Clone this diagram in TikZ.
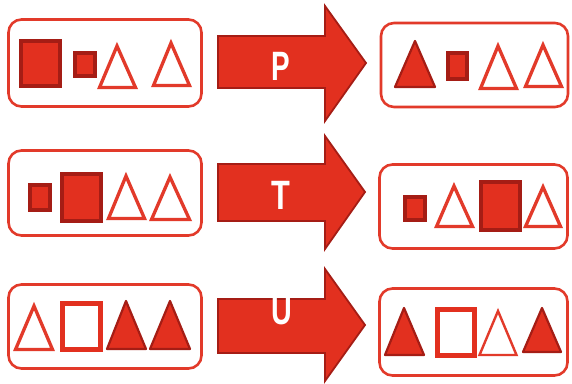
\documentclass[tikz,border=0pt]{standalone}
\usepackage{fontspec}
\setsansfont{Liberation Sans}
\usetikzlibrary{positioning}

\definecolor{redfill}{HTML}{E2301F}
\definecolor{reddark}{HTML}{A51D15}
\definecolor{redline}{HTML}{E23A2A}

\tikzset{
  panel/.style={draw=redline,line width=2.6pt,rounded corners=13pt,fill=white,inner sep=0pt},
  bigarrow/.style={fill=redfill,draw=reddark,line width=1.8pt,line join=miter},
  sqfull/.style={fill=redfill,draw=reddark,line width=4pt},
  sqhollow/.style={fill=white,draw=redfill,line width=5pt},
  trifull/.style={fill=redfill,draw=reddark,line width=2.2pt,line join=round},
  trihollow/.style={fill=white,draw=redline,line width=3.3pt,line join=miter},
  letter/.style={text=white,font=\sffamily\bfseries\fontsize{41}{41}\selectfont,inner sep=0pt}
}

\begin{document}
\begin{tikzpicture}[x=1pt,y=-1pt]
\useasboundingbox (0,0) rectangle (572,383);

% the six panels
\node[panel,minimum width=193pt,minimum height=87pt] (in1) at (105,63) {};
\node[panel,minimum width=187pt,minimum height=84pt] (out1) at (474.5,65) {};
\node[panel,minimum width=193pt,minimum height=85pt] (in2) at (105,193) {};
\node[panel,minimum width=188pt,minimum height=84pt] (out2) at (473.5,206.5) {};
\node[panel,minimum width=193pt,minimum height=84pt] (in3) at (105,326.5) {};
\node[panel,minimum width=188pt,minimum height=87pt] (out3) at (473.5,332) {};

% block arrows
\draw[bigarrow] (218,36) -- (325,36) -- (325,6) -- (366,63) -- (325,121) -- (325,88) -- (218,88) -- cycle;
\draw[bigarrow] (218,164) -- (325,164) -- (325,136) -- (365,192) -- (325,249) -- (325,221) -- (218,221) -- cycle;
\draw[bigarrow] (218,299) -- (325,299) -- (325,269) -- (365,325) -- (325,381) -- (325,353) -- (218,353) -- cycle;
\node[letter] (p) at (281,66) {\scalebox{0.68}[1]{P}};
\node[letter] (t) at (281,195) {\scalebox{0.75}[1]{T}};
\node[letter] (u) at (282,311) {\scalebox{0.7}[1]{U}};

% row 1, before
\draw[sqfull] (21,41) rectangle (60,86);
\draw[sqfull] (75,53) rectangle (95,76);
\draw[trihollow] (99.5,87.5) -- (117,46) -- (135.5,87.5) -- cycle;
\draw[trihollow] (153.5,85.5) -- (171,43) -- (189.5,85.5) -- cycle;
% row 1, after
\draw[trifull] (395,87) -- (415,41) -- (435,87) -- cycle;
\draw[sqfull] (448,53) rectangle (467,79);
\draw[trihollow] (480.5,88.5) -- (498,46) -- (516.5,88.5) -- cycle;
\draw[trihollow] (525.5,86.5) -- (543,45) -- (561.5,86.5) -- cycle;

% row 2, before
\draw[sqfull] (30,185) rectangle (50,210);
\draw[sqfull] (62,174) rectangle (101,221);
\draw[trihollow] (108.5,218.5) -- (126,176) -- (144.5,218.5) -- cycle;
\draw[trihollow] (151.5,219.5) -- (170,177) -- (189.5,219.5) -- cycle;
% row 2, after
\draw[sqfull] (405,197) rectangle (425,220);
\draw[trihollow] (436.5,226.5) -- (454,186) -- (472.5,226.5) -- cycle;
\draw[sqfull] (481,182) rectangle (520,230);
\draw[trihollow] (525.5,226.5) -- (543,187) -- (560.5,226.5) -- cycle;

% row 3, before
\draw[trihollow] (15.5,349.5) -- (34,306) -- (52.5,349.5) -- cycle;
\draw[sqhollow] (62.5,303.5) rectangle (100.5,349.5);
\draw[trifull] (107,349) -- (126,301) -- (146,349) -- cycle;
\draw[trifull] (150,349) -- (170,301) -- (190,349) -- cycle;
% row 3, after
\draw[trifull] (385,355) -- (404,308) -- (424,355) -- cycle;
\draw[sqhollow] (437.5,309.5) rectangle (474.5,355.5);
\draw[trihollow,line width=2.4pt] (479.5,355) -- (498,311) -- (516.5,355) -- cycle;
\draw[trifull] (523,352) -- (542,308) -- (561,352) -- cycle;
\end{tikzpicture}
\end{document}
